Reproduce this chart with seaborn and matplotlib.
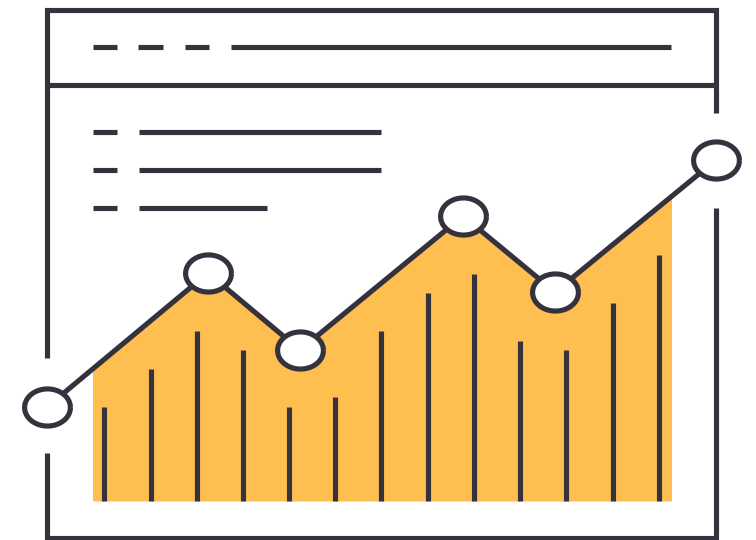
import numpy as np
import pandas as pd
import matplotlib
matplotlib.use("Agg")
import matplotlib.pyplot as plt
from matplotlib.path import Path
from matplotlib.patches import Rectangle
import seaborn as sns

# --- DATA (picture units, y grows downward) ---
point_x = [47, 208, 300, 463, 555, 716]
point_y = [407, 273, 350, 216, 292, 160]

bar_x = [104, 151, 197, 243, 289, 335, 381, 428, 474, 520, 566, 613, 659]
bar_top = [407, 369, 331, 350, 407, 397, 331, 293, 274, 341, 350, 303, 255]
BAR_BASE = 501

# --- STYLE ---
DARK = "#35323d"
YELLOW = "#febe50"
LW = 3.7

sns.set_theme(style="white")

df = pd.DataFrame({"x": point_x, "y": point_y})

fig = plt.figure(figsize=(7.56, 5.4), dpi=100)
ax = fig.add_axes([0, 0, 1, 1])
ax.set_xlim(0, 756)
ax.set_ylim(540, 0)
ax.axis("off")

# window frame with gaps where the chart leaves it
frame_kw = dict(color=DARK, lw=LW, solid_joinstyle="miter", solid_capstyle="butt", zorder=1)
ax.plot([47, 47, 716, 716], [358, 9.5, 9.5, 113], **frame_kw)
ax.plot([47, 47, 716, 716], [453, 537.5, 537.5, 208], **frame_kw)
ax.plot([47, 716], [85, 85], **frame_kw)

# header and text placeholder lines
ax.plot([93, 117], [46.5, 46.5], **frame_kw)
ax.plot([138, 163], [46.5, 46.5], **frame_kw)
ax.plot([185, 209], [46.5, 46.5], **frame_kw)
ax.plot([231, 671], [46.5, 46.5], **frame_kw)
for yy, end in [(132, 381), (170, 381), (208, 267)]:
    ax.plot([93, 117], [yy, yy], **frame_kw)
    ax.plot([139, end], [yy, yy], **frame_kw)

# yellow area under the line, clipped to the chart box
area = ax.fill_between(point_x, point_y, BAR_BASE, color=YELLOW, lw=0, zorder=2)
clip = Rectangle((93, 0), 671 - 93, BAR_BASE, transform=ax.transData)
area.set_clip_path(clip)

# vertical bars
ax.vlines(bar_x, bar_top, BAR_BASE, color=DARK, lw=LW, zorder=3)

# line and points
sns.lineplot(data=df, x="x", y="y", ax=ax, color=DARK, lw=LW,
             estimator=None, zorder=4)
theta = np.linspace(0, 2 * np.pi, 60)
ellipse = Path(np.column_stack([np.cos(theta), 0.81 * np.sin(theta)]))
sns.scatterplot(data=df, x="x", y="y", ax=ax, marker=ellipse, s=33 ** 2,
                color="white", edgecolor=DARK, linewidth=LW, zorder=5)

ax.set_xlim(0, 756)
ax.set_ylim(540, 0)
ax.axis("off")
fig.savefig("out.png", dpi=100)
